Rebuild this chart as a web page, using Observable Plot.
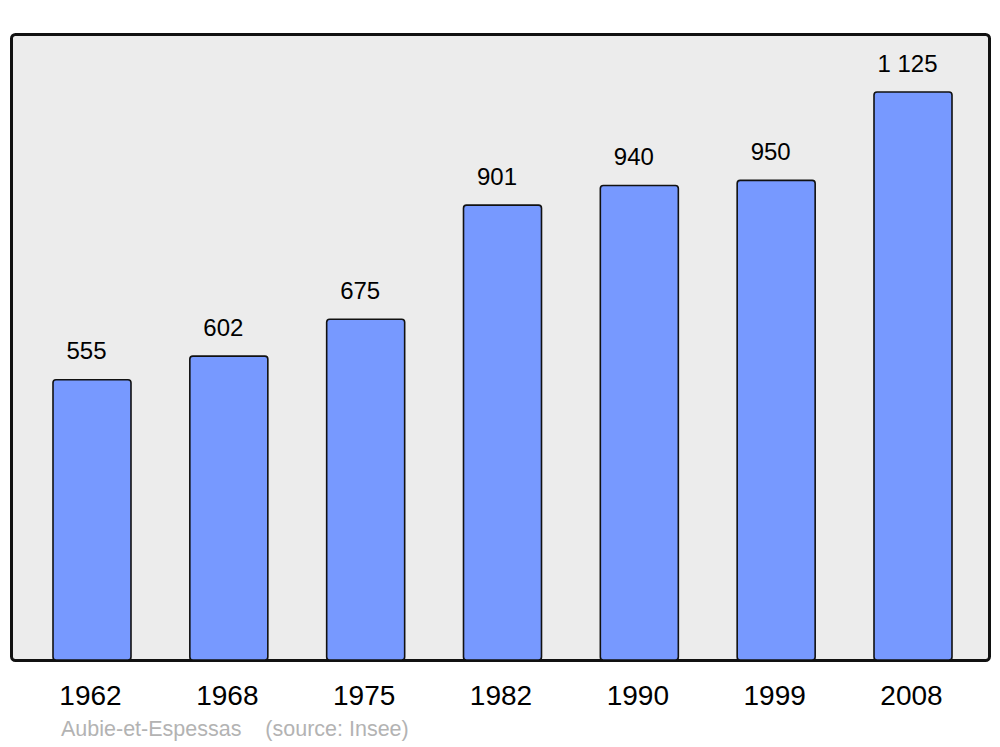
<!DOCTYPE html>
<html>
<head>
<meta charset="utf-8">
<script src="https://cdn.jsdelivr.net/npm/d3@7"></script>
<script src="https://cdn.jsdelivr.net/npm/@observablehq/plot@0.6"></script>
<style>
  html, body { margin: 0; padding: 0; background: #fff; }
  #wrap { position: relative; width: 1000px; height: 747px; font-family: "Liberation Sans", Arial, sans-serif; }
  #caption { position: absolute; left: 61px; top: 719px; font-size: 21.5px; line-height: 21.5px; color: #b3b3b3; white-space: pre; }
</style>
</head>
<body>
<div id="wrap"></div>
<script>
const years = ["1962", "1968", "1975", "1982", "1990", "1999", "2008"];
const population = [555, 602, 675, 901, 940, 950, 1125];
const valueLabels = ["555", "602", "675", "901", "940", "950", "1 125"];
const captionText = "Aubie-et-Espessas    (source: Insee)";

const data = years.map((y, i) => ({year: y, pop: population[i], label: valueLabels[i]}));

const chart = Plot.plot({
  width: 1000,
  height: 712,
  marginTop: 34,
  marginBottom: 52,
  marginLeft: 11,
  marginRight: 11,
  style: {fontFamily: "'Liberation Sans', Arial, sans-serif", background: "#fff"},
  x: {domain: years, range: [53, 952], paddingInner: 0.43, paddingOuter: 0, round: false, label: null},
  y: {domain: [0, 1240], axis: null},
  marks: [
    Plot.frame({fill: "#ececec", stroke: "#111", strokeWidth: 3, rx: 4}),
    Plot.barY(data, {x: "year", y: "pop", fill: "#7799ff", stroke: "#111", strokeWidth: 1.6, rx: 3}),
    Plot.text(data, {x: "year", y: "pop", text: "label", lineAnchor: "bottom", dy: -21, dx: -6, fontSize: 24, fill: "#000"}),
    Plot.axisX({tickSize: 0, tickPadding: 25, fontSize: 28, dx: -2, fill: "#000", label: null})
  ]
});
document.getElementById("wrap").appendChild(chart);
const cap = document.createElement("div");
cap.id = "caption";
cap.textContent = captionText;
document.getElementById("wrap").appendChild(cap);
</script>
</body>
</html>
